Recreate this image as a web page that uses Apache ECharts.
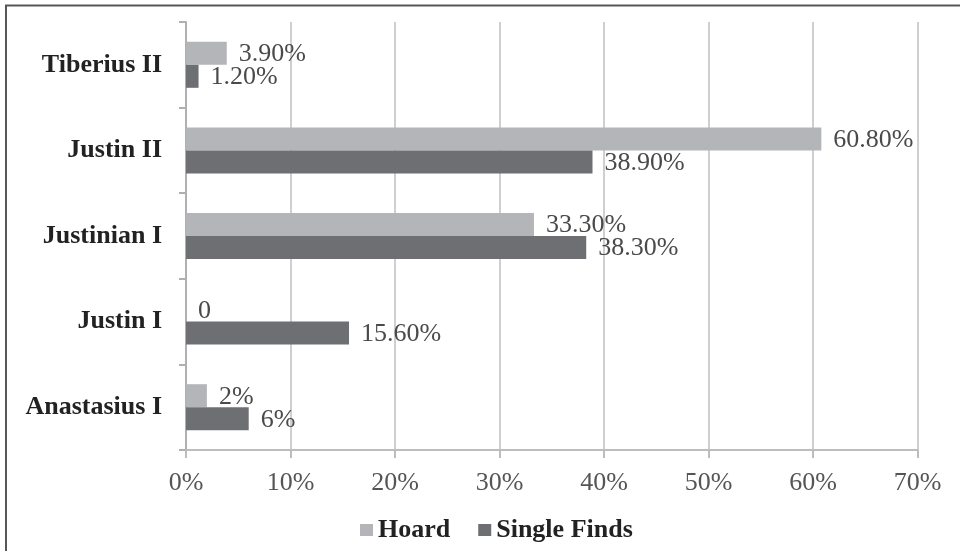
<!DOCTYPE html>
<html>
<head>
<meta charset="utf-8">
<script src="https://cdn.jsdelivr.net/npm/echarts@6/dist/echarts.min.js"></script>
<style>
  html, body { margin: 0; padding: 0; background: #fff; }
  #chart { width: 960px; height: 551px; }
</style>
</head>
<body>
<div id="chart"></div>
<script>
// Emperors, listed bottom to top along the category axis
const emperors = ['Anastasius I', 'Justin I', 'Justinian I', 'Justin II', 'Tiberius II'];

// Share of coins (%) per emperor
const hoardValues = [2, 0, 33.3, 60.8, 3.9];
const singleFindValues = [6, 15.6, 38.3, 38.9, 1.2];

// Value labels as printed next to each bar
const hoardLabels = ['2%', '0', '33.30%', '60.80%', '3.90%'];
const singleFindLabels = ['6%', '15.60%', '38.30%', '38.90%', '1.20%'];

// Percentage axis
const axisMin = 0;
const axisMax = 70;
const axisStep = 10;

const serif = '"Liberation Serif", "Times New Roman", serif';

const chart = echarts.init(document.getElementById('chart'), null, { renderer: 'canvas' });

function valueLabel(texts) {
  return {
    show: true,
    position: 'right',
    distance: 12,
    offset: [0, 1],
    fontFamily: serif,
    fontSize: 26,
    color: '#4a4a4a',
    formatter: p => texts[p.dataIndex]
  };
}

chart.setOption({
  animation: false,
  backgroundColor: '#ffffff',
  graphic: [{
    type: 'rect',
    shape: { x: 6, y: 5.5, width: 1000, height: 600 },
    style: { fill: 'none', stroke: '#575757', lineWidth: 2 },
    z: 100
  }],
  grid: { left: 186, right: 42.5, top: 22, bottom: 101, containLabel: false },
  legend: {
    bottom: 3,
    left: 355,
    itemWidth: 13,
    itemHeight: 12,
    itemGap: 28,
    icon: 'rect',
    textStyle: { fontFamily: serif, fontSize: 26, fontWeight: 'bold', color: '#222' },
    data: ['Hoard', 'Single Finds']
  },
  xAxis: {
    type: 'value',
    min: axisMin,
    max: axisMax,
    interval: axisStep,
    axisLine: { show: true, lineStyle: { color: '#bdbdbd', width: 2 } },
    axisTick: { show: true, length: 8, lineStyle: { color: '#bdbdbd', width: 2 } },
    axisLabel: {
      margin: 20,
      fontFamily: serif,
      fontSize: 26,
      color: '#555555',
      formatter: '{value}%'
    },
    splitLine: { show: true, lineStyle: { color: '#cfcfd1', width: 2 } }
  },
  yAxis: {
    type: 'category',
    data: emperors,
    axisLine: { show: true, lineStyle: { color: '#b0b0b0', width: 2 } },
    axisTick: { show: true, length: 7, lineStyle: { color: '#b0b0b0', width: 2 } },
    axisLabel: {
      margin: 24,
      fontFamily: serif,
      fontSize: 26,
      fontWeight: 'bold',
      color: '#222'
    }
  },
  series: [
    {
      name: 'Hoard',
      type: 'bar',
      data: hoardValues,
      barWidth: 23,
      barGap: '0%',
      itemStyle: { color: '#b4b5b8' },
      label: valueLabel(hoardLabels)
    },
    {
      name: 'Single Finds',
      type: 'bar',
      data: singleFindValues,
      barWidth: 23,
      barGap: '0%',
      itemStyle: { color: '#6e6f72' },
      label: valueLabel(singleFindLabels)
    }
  ]
});
</script>
</body>
</html>
